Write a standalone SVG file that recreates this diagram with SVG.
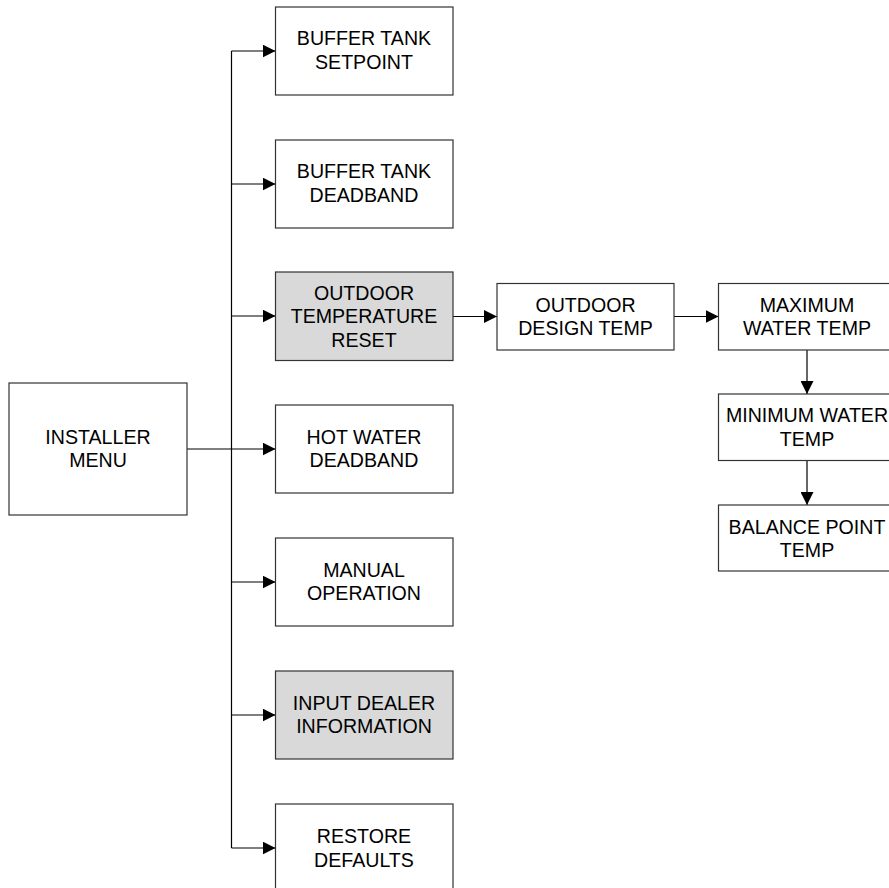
<svg xmlns="http://www.w3.org/2000/svg" width="889" height="888" viewBox="0 0 889 888">
<defs>
<style>
.box{fill:#ffffff;stroke:#333333;stroke-width:1.2}
.grey{fill:#d9d9d9}
.t{font-family:"Liberation Sans",Arial,sans-serif;font-size:19.6px;fill:#000;text-anchor:middle}
.ln{fill:none;stroke:#000;stroke-width:1.2}
.arr{marker-end:url(#ah)}
</style>
<marker id="ah" markerUnits="userSpaceOnUse" markerWidth="14" markerHeight="13" refX="13" refY="6.5" orient="auto">
<path d="M0,0 L13,6.5 L0,13 Z" fill="#000"/>
</marker>
</defs>
<rect width="889" height="888" fill="#fff"/>
<g id="connectors">
<line class="ln" x1="231.5" y1="51" x2="231.5" y2="848"/>
<line class="ln" x1="187" y1="449" x2="231.5" y2="449"/>
<line class="ln arr" x1="231.5" y1="51" x2="275.5" y2="51"/>
<line class="ln arr" x1="231.5" y1="184" x2="275.5" y2="184"/>
<line class="ln arr" x1="231.5" y1="316" x2="275.5" y2="316"/>
<line class="ln arr" x1="231.5" y1="449" x2="275.5" y2="449"/>
<line class="ln arr" x1="231.5" y1="582" x2="275.5" y2="582"/>
<line class="ln arr" x1="231.5" y1="715" x2="275.5" y2="715"/>
<line class="ln arr" x1="231.5" y1="848" x2="275.5" y2="848"/>
<line class="ln arr" x1="453" y1="316.5" x2="497" y2="316.5"/>
<line class="ln arr" x1="674" y1="316.5" x2="718.5" y2="316.5"/>
<line class="ln arr" x1="807" y1="350" x2="807" y2="394"/>
<line class="ln arr" x1="807" y1="460.5" x2="807" y2="505"/>
</g>
<g id="installer-menu">
<rect class="box" x="9" y="383" width="178" height="132"/>
<text class="t" x="98" y="444">INSTALLER</text>
<text class="t" x="98" y="467">MENU</text>
</g>
<g id="buffer-tank-setpoint">
<rect class="box" x="275.5" y="7" width="177.5" height="88"/>
<text class="t" x="364" y="45">BUFFER TANK</text>
<text class="t" x="364" y="68.5">SETPOINT</text>
</g>
<g id="buffer-tank-deadband">
<rect class="box" x="275.5" y="140" width="177.5" height="88"/>
<text class="t" x="364" y="178">BUFFER TANK</text>
<text class="t" x="364" y="201.5">DEADBAND</text>
</g>
<g id="outdoor-temperature-reset">
<rect class="box grey" x="275.5" y="272" width="177.5" height="88.5"/>
<text class="t" x="364" y="300">OUTDOOR</text>
<text class="t" x="364" y="323">TEMPERATURE</text>
<text class="t" x="364" y="346.5">RESET</text>
</g>
<g id="hot-water-deadband">
<rect class="box" x="275.5" y="405" width="177.5" height="88"/>
<text class="t" x="364" y="443.5">HOT WATER</text>
<text class="t" x="364" y="466.5">DEADBAND</text>
</g>
<g id="manual-operation">
<rect class="box" x="275.5" y="538" width="177.5" height="88"/>
<text class="t" x="364" y="576.5">MANUAL</text>
<text class="t" x="364" y="599.5">OPERATION</text>
</g>
<g id="input-dealer-information">
<rect class="box grey" x="275.5" y="671" width="177.5" height="88"/>
<text class="t" x="364" y="709.5">INPUT DEALER</text>
<text class="t" x="364" y="732.5">INFORMATION</text>
</g>
<g id="restore-defaults">
<rect class="box" x="275.5" y="804" width="177.5" height="88"/>
<text class="t" x="364" y="843">RESTORE</text>
<text class="t" x="364" y="866.5">DEFAULTS</text>
</g>
<g id="outdoor-design-temp">
<rect class="box" x="497" y="283.5" width="177" height="66.5"/>
<text class="t" x="585.5" y="311.5">OUTDOOR</text>
<text class="t" x="585.5" y="335">DESIGN TEMP</text>
</g>
<g id="maximum-water-temp">
<rect class="box" x="718.5" y="283.5" width="177" height="66.5"/>
<text class="t" x="807" y="311.5">MAXIMUM</text>
<text class="t" x="807" y="335">WATER TEMP</text>
</g>
<g id="minimum-water-temp">
<rect class="box" x="718.5" y="394" width="177" height="66.5"/>
<text class="t" x="807" y="421.5">MINIMUM WATER</text>
<text class="t" x="807" y="445.5">TEMP</text>
</g>
<g id="balance-point-temp">
<rect class="box" x="718.5" y="505" width="177" height="66"/>
<text class="t" x="807" y="534">BALANCE POINT</text>
<text class="t" x="807" y="557">TEMP</text>
</g>
</svg>
